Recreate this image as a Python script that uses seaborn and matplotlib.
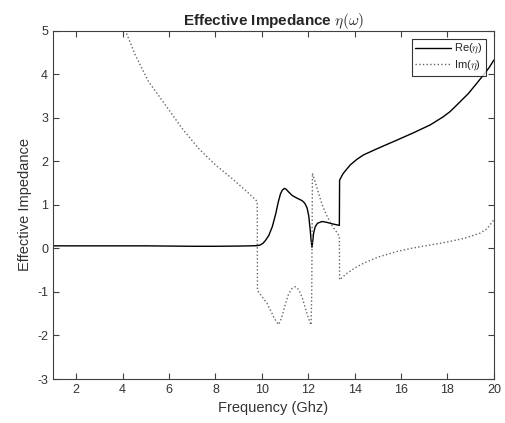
import matplotlib
matplotlib.use("Agg")
import matplotlib.pyplot as plt
import seaborn as sns
import pandas as pd

sns.set_style("white")
plt.rcParams['font.family'] = ['Liberation Sans', 'DejaVu Sans']
plt.rcParams['mathtext.fontset'] = 'cm'
plt.rcParams['axes.unicode_minus'] = False

# Real part of effective impedance
freq_re = [1.0, 2.0, 3.0, 4.0, 5.0, 6.0, 7.0, 8.0, 9.0, 9.5, 9.8, 9.93, 10.05, 10.15, 10.3, 10.45,
           10.6, 10.7, 10.8, 10.88, 10.97, 11.05, 11.15, 11.3, 11.5, 11.73, 11.85, 11.95,
           12.02, 12.08, 12.12, 12.16, 12.19, 12.23, 12.3, 12.4, 12.6, 12.8, 13.0, 13.34,
           13.35, 13.5, 13.81, 14.1, 14.38, 15.0, 15.82, 16.5, 17.26, 17.8, 18.1, 18.41,
           18.9, 19.27, 19.6, 19.8, 20.0]
re_vals = [0.06, 0.06, 0.06, 0.06, 0.06, 0.055, 0.05, 0.05, 0.055, 0.06, 0.065, 0.08, 0.12, 0.18, 0.3, 0.5,
           0.8, 1.05, 1.25, 1.34, 1.38, 1.36, 1.3, 1.22, 1.16, 1.1, 1.04, 0.93,
           0.75, 0.45, 0.2, 0.03, 0.15, 0.35, 0.5, 0.58, 0.62, 0.6, 0.57, 0.53,
           1.57, 1.72, 1.92, 2.05, 2.15, 2.3, 2.49, 2.65, 2.84, 3.02, 3.14, 3.30,
           3.56, 3.80, 4.02, 4.16, 4.33]

# Imaginary part of effective impedance
freq_im = [1.0, 2.0, 3.0, 3.5, 4.11, 4.54, 5.12, 5.84, 6.56, 7.27, 8.0, 8.71, 9.43, 9.8, 9.81,
           10.0, 10.22, 10.4, 10.55, 10.72, 10.85, 11.0, 11.15, 11.3, 11.44, 11.6, 11.75,
           11.9, 12.02, 12.12, 12.15, 12.18, 12.4, 12.6, 12.8, 13.0, 13.34, 13.35, 13.6,
           14.0, 14.38, 15.0, 15.82, 16.5, 17.26, 18.0, 18.7, 19.4, 19.7, 20.0]
im_vals = [11.5, 8.8, 6.7, 5.9, 5.02, 4.45, 3.83, 3.30, 2.76, 2.30, 1.92, 1.61, 1.27, 1.08, -0.97,
           -1.1, -1.26, -1.45, -1.62, -1.75, -1.6, -1.3, -1.05, -0.92, -0.88, -0.95, -1.15,
           -1.42, -1.62, -1.76, -1.0, 1.73, 1.35, 1.0, 0.75, 0.55, 0.28, -0.72, -0.6,
           -0.45, -0.34, -0.2, -0.07, 0.01, 0.08, 0.15, 0.23, 0.35, 0.45, 0.66]

x_ticks = [2, 4, 6, 8, 10, 12, 14, 16, 18, 20]
y_ticks = [-3, -2, -1, 0, 1, 2, 3, 4, 5]

df_re = pd.DataFrame({"f": freq_re, "v": re_vals})
df_im = pd.DataFrame({"f": freq_im, "v": im_vals})

fig = plt.figure(figsize=(5.05, 4.23), dpi=100)
ax = fig.add_axes([0.105, 0.104, 0.873, 0.823])

sns.lineplot(data=df_re, x="f", y="v", ax=ax, color="black", linewidth=1.0,
             estimator=None, sort=False, label=r"Re($\eta$)")
sns.lineplot(data=df_im, x="f", y="v", ax=ax, color="#666666", linewidth=1.0,
             linestyle=":", estimator=None, sort=False, label=r"Im($\eta$)")

ax.set_xlim(1, 20)
ax.set_ylim(-3, 5)
ax.set_xticks(x_ticks)
ax.set_yticks(y_ticks)
axc = "#404040"
for s in ax.spines.values():
    s.set_color(axc)
    s.set_linewidth(0.8)
    s.set_visible(True)
ax.tick_params(direction="in", length=4, width=0.8, colors=axc, labelcolor="#333333",
               labelsize=9, top=True, right=True, bottom=True, left=True)
ax.set_xlabel("Frequency (Ghz)", fontsize=10.5, color="#333333")
ax.set_ylabel("Effective Impedance", fontsize=10.5, color="#333333")
ax.set_title(r"Effective Impedance $\eta(\omega)$", fontsize=11, fontweight="bold", pad=4)

leg = ax.legend(loc="upper right", fontsize=8, frameon=True, fancybox=False,
                edgecolor="black", handlelength=3.2, borderpad=0.3, labelspacing=0.2,
                handletextpad=0.3, borderaxespad=0.7)
leg.get_frame().set_linewidth(0.8)

fig.savefig("out.png", dpi=100)
